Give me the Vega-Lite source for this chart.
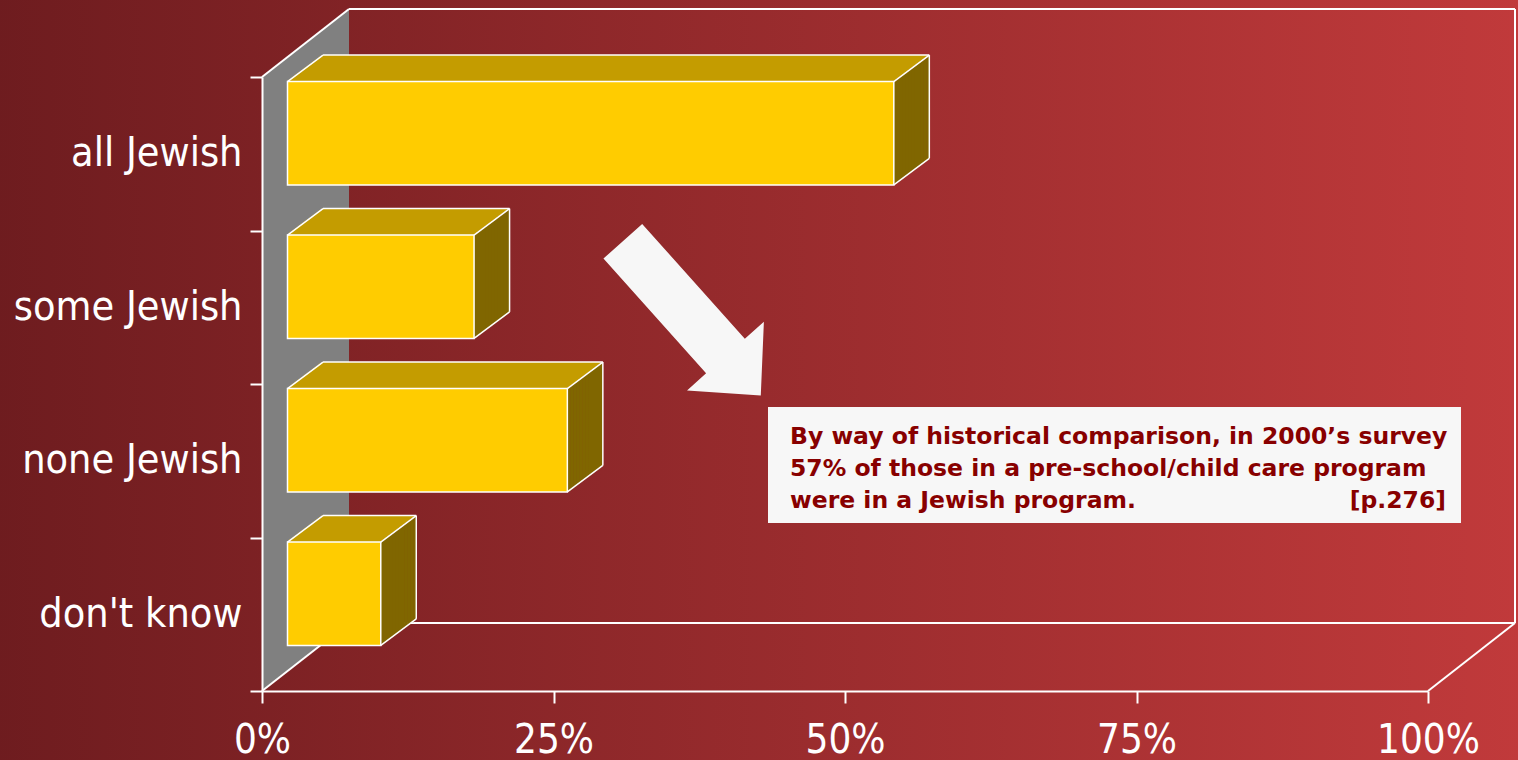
{
  "$schema": "https://vega.github.io/schema/vega-lite/v6.json",
  "width": 1166,
  "height": 614,
  "autosize": {"type": "none"},
  "padding": {"left": 262, "top": 77, "right": 90, "bottom": 69},
  "background": "#8a2527",
  "config": {"view": {"stroke": null}, "font": "DejaVu Sans Condensed, DejaVu Sans"},
  "data": {"values": [
    {"answer": "all Jewish", "share": 0.52},
    {"answer": "some Jewish", "share": 0.16},
    {"answer": "none Jewish", "share": 0.24},
    {"answer": "don't know", "share": 0.08}
  ]},
  "encoding": {
    "x": {"field": "share", "type": "quantitative",
      "scale": {"domain": [0, 1], "nice": false, "zero": true},
      "axis": {"values": [0, 0.25, 0.5, 0.75, 1], "format": ".0%", "title": null, "grid": false,
        "domainColor": "white", "domainWidth": 2, "tickColor": "white", "tickWidth": 2, "tickSize": 12,
        "labelColor": "white", "labelFontSize": 40, "labelPadding": 17, "labelFlush": false, "labelOverlap": false, "zindex": 1}},
    "y": {"field": "answer", "type": "nominal",
      "scale": {"domain": ["all Jewish", "some Jewish", "none Jewish", "don't know"], "paddingInner": 0, "paddingOuter": 0},
      "axis": {"title": null, "grid": false, "domainColor": "white", "domainWidth": 2, "tickColor": "white", "tickWidth": 2,
        "tickSize": 12, "tickBand": "extent", "labelColor": "white", "labelFontSize": 41, "labelPadding": 8, "labelLimit": 400, "zindex": 1}}
  },
  "layer": [
    {"transform": [{"filter": {"field": "answer", "equal": "some Jewish"}}],
     "mark": {"type": "point", "shape": "M-1,-0.51H1V0.51H-1Z", "size": 2340900, "filled": true, "opacity": 1, "strokeWidth": 0, "yOffset": 72.75,
       "fill": {"gradient": "linear", "x1": 0, "y1": 0, "x2": 1, "y2": 0, "stops": [{"offset": 0, "color": "#6e1c1f"}, {"offset": 1, "color": "#c13a3b"}]}},
     "encoding": {"x": {"datum": 0.42624}, "y": {"datum": "some Jewish"}}},
    {"transform": [{"filter": {"field": "answer", "equal": "some Jewish"}}],
     "mark": {"type": "point", "shape": "M-0.12757,-0.80059L0.12757,-1L0.12757,0.80059L-0.12757,1Z", "size": 465124, "filled": true, "fill": "#808080", "opacity": 1, "strokeWidth": 0, "xOffset": 43.5, "yOffset": 42.75},
     "encoding": {"x": {"datum": 0}, "y": {"datum": "some Jewish"}}},
    {"transform": [{"filter": {"field": "answer", "equal": "all Jewish"}}],
     "mark": {"type": "rule", "color": "white", "strokeWidth": 2, "x2Offset": 87, "yOffset": -76.75, "y2Offset": -144.75},
     "encoding": {"x": {"datum": 0}, "x2": {"datum": 0}, "y": {"datum": "all Jewish"}, "y2": {"datum": "all Jewish"}}},
    {"transform": [{"filter": {"field": "answer", "equal": "all Jewish"}}],
     "mark": {"type": "rule", "color": "white", "strokeWidth": 2, "x2Offset": 87, "yOffset": 76.75, "y2Offset": 8.75},
     "encoding": {"x": {"datum": 0}, "x2": {"datum": 0}, "y": {"datum": "don't know"}, "y2": {"datum": "don't know"}}},
    {"transform": [{"filter": {"field": "answer", "equal": "all Jewish"}}],
     "mark": {"type": "rule", "color": "white", "strokeWidth": 2, "xOffset": 87, "x2Offset": 87, "yOffset": -144.75},
     "encoding": {"x": {"datum": 0}, "x2": {"datum": 1}, "y": {"datum": "all Jewish"}}},
    {"transform": [{"filter": {"field": "answer", "equal": "all Jewish"}}],
     "mark": {"type": "rule", "color": "white", "strokeWidth": 2, "xOffset": 87, "yOffset": -144.75, "y2Offset": 8.75},
     "encoding": {"x": {"datum": 1}, "y": {"datum": "all Jewish"}, "y2": {"datum": "don't know"}}},
    {"transform": [{"filter": {"field": "answer", "equal": "all Jewish"}}],
     "mark": {"type": "rule", "color": "white", "strokeWidth": 2, "xOffset": 87, "x2Offset": 87, "yOffset": 8.75},
     "encoding": {"x": {"datum": 0}, "x2": {"datum": 1}, "y": {"datum": "don't know"}}},
    {"transform": [{"filter": {"field": "answer", "equal": "all Jewish"}}],
     "mark": {"type": "rule", "color": "white", "strokeWidth": 2, "x2Offset": 87, "yOffset": 76.75, "y2Offset": 8.75},
     "encoding": {"x": {"datum": 1}, "x2": {"datum": 1}, "y": {"datum": "don't know"}, "y2": {"datum": "don't know"}}},

    {"mark": {"type": "rule", "color": "#c49c00", "strokeWidth": 3.2, "xOffset": 26.98, "x2Offset": 26.98, "yOffset": -73.25}, "encoding": {"x2": {"datum": 0}}},
    {"mark": {"type": "rule", "color": "#c49c00", "strokeWidth": 3.2, "xOffset": 29.94, "x2Offset": 29.94, "yOffset": -75.46}, "encoding": {"x2": {"datum": 0}}},
    {"mark": {"type": "rule", "color": "#c49c00", "strokeWidth": 3.2, "xOffset": 32.90, "x2Offset": 32.90, "yOffset": -77.67}, "encoding": {"x2": {"datum": 0}}},
    {"mark": {"type": "rule", "color": "#c49c00", "strokeWidth": 3.2, "xOffset": 35.85, "x2Offset": 35.85, "yOffset": -79.88}, "encoding": {"x2": {"datum": 0}}},
    {"mark": {"type": "rule", "color": "#c49c00", "strokeWidth": 3.2, "xOffset": 38.81, "x2Offset": 38.81, "yOffset": -82.09}, "encoding": {"x2": {"datum": 0}}},
    {"mark": {"type": "rule", "color": "#c49c00", "strokeWidth": 3.2, "xOffset": 41.77, "x2Offset": 41.77, "yOffset": -84.30}, "encoding": {"x2": {"datum": 0}}},
    {"mark": {"type": "rule", "color": "#c49c00", "strokeWidth": 3.2, "xOffset": 44.73, "x2Offset": 44.73, "yOffset": -86.50}, "encoding": {"x2": {"datum": 0}}},
    {"mark": {"type": "rule", "color": "#c49c00", "strokeWidth": 3.2, "xOffset": 47.69, "x2Offset": 47.69, "yOffset": -88.71}, "encoding": {"x2": {"datum": 0}}},
    {"mark": {"type": "rule", "color": "#c49c00", "strokeWidth": 3.2, "xOffset": 50.65, "x2Offset": 50.65, "yOffset": -90.92}, "encoding": {"x2": {"datum": 0}}},
    {"mark": {"type": "rule", "color": "#c49c00", "strokeWidth": 3.2, "xOffset": 53.60, "x2Offset": 53.60, "yOffset": -93.13}, "encoding": {"x2": {"datum": 0}}},
    {"mark": {"type": "rule", "color": "#c49c00", "strokeWidth": 3.2, "xOffset": 56.56, "x2Offset": 56.56, "yOffset": -95.34}, "encoding": {"x2": {"datum": 0}}},
    {"mark": {"type": "rule", "color": "#c49c00", "strokeWidth": 2.6, "xOffset": 59.52, "x2Offset": 59.52, "yOffset": -97.55}, "encoding": {"x2": {"datum": 0}}},

    {"mark": {"type": "rule", "color": "#806600", "strokeWidth": 103.3, "xOffset": 25.5, "x2Offset": 28.96, "yOffset": -21.60}, "encoding": {"x2": {"field": "share"}}},
    {"mark": {"type": "rule", "color": "#806600", "strokeWidth": 103.3, "xOffset": 28.46, "x2Offset": 31.92, "yOffset": -23.81}, "encoding": {"x2": {"field": "share"}}},
    {"mark": {"type": "rule", "color": "#806600", "strokeWidth": 103.3, "xOffset": 31.42, "x2Offset": 34.88, "yOffset": -26.02}, "encoding": {"x2": {"field": "share"}}},
    {"mark": {"type": "rule", "color": "#806600", "strokeWidth": 103.3, "xOffset": 34.38, "x2Offset": 37.83, "yOffset": -28.23}, "encoding": {"x2": {"field": "share"}}},
    {"mark": {"type": "rule", "color": "#806600", "strokeWidth": 103.3, "xOffset": 37.33, "x2Offset": 40.79, "yOffset": -30.44}, "encoding": {"x2": {"field": "share"}}},
    {"mark": {"type": "rule", "color": "#806600", "strokeWidth": 103.3, "xOffset": 40.29, "x2Offset": 43.75, "yOffset": -32.65}, "encoding": {"x2": {"field": "share"}}},
    {"mark": {"type": "rule", "color": "#806600", "strokeWidth": 103.3, "xOffset": 43.25, "x2Offset": 46.71, "yOffset": -34.85}, "encoding": {"x2": {"field": "share"}}},
    {"mark": {"type": "rule", "color": "#806600", "strokeWidth": 103.3, "xOffset": 46.21, "x2Offset": 49.67, "yOffset": -37.06}, "encoding": {"x2": {"field": "share"}}},
    {"mark": {"type": "rule", "color": "#806600", "strokeWidth": 103.3, "xOffset": 49.17, "x2Offset": 52.63, "yOffset": -39.27}, "encoding": {"x2": {"field": "share"}}},
    {"mark": {"type": "rule", "color": "#806600", "strokeWidth": 103.3, "xOffset": 52.13, "x2Offset": 55.58, "yOffset": -41.48}, "encoding": {"x2": {"field": "share"}}},
    {"mark": {"type": "rule", "color": "#806600", "strokeWidth": 103.3, "xOffset": 55.08, "x2Offset": 58.54, "yOffset": -43.69}, "encoding": {"x2": {"field": "share"}}},
    {"mark": {"type": "rule", "color": "#806600", "strokeWidth": 103.3, "xOffset": 58.04, "x2Offset": 61.0, "yOffset": -45.90}, "encoding": {"x2": {"field": "share"}}},

    {"mark": {"type": "rule", "color": "white", "strokeWidth": 104.8, "xOffset": 26.25, "x2Offset": 24.75, "yOffset": -20.5}, "encoding": {"x2": {"datum": 0}}},
    {"mark": {"type": "rule", "color": "#ffcc00", "strokeWidth": 101.8, "xOffset": 24.75, "x2Offset": 26.25, "yOffset": -20.5}, "encoding": {"x2": {"datum": 0}}},

    {"mark": {"type": "rule", "color": "white", "strokeWidth": 1.5, "xOffset": 25.5, "x2Offset": 61, "yOffset": -72.15, "y2Offset": -98.65},
     "encoding": {"x": {"datum": 0}, "x2": {"datum": 0}, "y2": {"field": "answer"}}},
    {"mark": {"type": "rule", "color": "white", "strokeWidth": 1.5, "xOffset": 61, "x2Offset": 61, "yOffset": -98.65},
     "encoding": {"x2": {"datum": 0}}},
    {"mark": {"type": "rule", "color": "white", "strokeWidth": 1.5, "xOffset": 25.5, "x2Offset": 61, "yOffset": -72.15, "y2Offset": -98.65},
     "encoding": {"x2": {"field": "share"}, "y2": {"field": "answer"}}},
    {"mark": {"type": "rule", "color": "white", "strokeWidth": 1.5, "xOffset": 61, "yOffset": -98.65, "y2Offset": 4.65},
     "encoding": {"y2": {"field": "answer"}}},
    {"mark": {"type": "rule", "color": "white", "strokeWidth": 1.5, "xOffset": 25.5, "x2Offset": 61, "yOffset": 31.15, "y2Offset": 4.65},
     "encoding": {"x2": {"field": "share"}, "y2": {"field": "answer"}}},

    {"transform": [{"filter": {"field": "answer", "equal": "some Jewish"}}],
     "mark": {"type": "point", "shape": "M-0.251,-1L0.251,-1L0.251,0.488L0.498,0.488L0,1L-0.498,0.488L-0.251,0.488Z", "size": 42849, "angle": -41.8,
       "filled": true, "fill": "#f7f7f7", "opacity": 1, "strokeWidth": 0, "yOffset": 11.15},
     "encoding": {"x": {"datum": 0.36861}, "y": {"datum": "some Jewish"}}},
    {"transform": [{"filter": {"field": "answer", "equal": "none Jewish"}}],
     "mark": {"type": "rule", "color": "#f7f7f7", "strokeWidth": 116, "yOffset": 4.25},
     "encoding": {"x": {"datum": 0.43396}, "x2": {"datum": 1.0283}, "y": {"datum": "none Jewish"}}},
    {"transform": [{"filter": {"field": "answer", "equal": "none Jewish"}}],
     "mark": {"type": "text", "text": ["By way of historical comparison, in 2000’s survey", "57% of those in a pre-school/child care program", "were in a Jewish program."],
       "align": "left", "baseline": "alphabetic", "lineHeight": 32, "font": "DejaVu Sans", "fontSize": 23.5, "fontWeight": "bold", "color": "#880000", "yOffset": -17.25},
     "encoding": {"x": {"datum": 0.45283}, "y": {"datum": "none Jewish"}}},
    {"transform": [{"filter": {"field": "answer", "equal": "none Jewish"}}],
     "mark": {"type": "text", "text": "[p.276]", "align": "right", "baseline": "alphabetic", "font": "DejaVu Sans", "fontSize": 23.5, "fontWeight": "bold", "color": "#880000", "yOffset": 47.25},
     "encoding": {"x": {"datum": 1.01544}, "y": {"datum": "none Jewish"}}}
  ]
}
